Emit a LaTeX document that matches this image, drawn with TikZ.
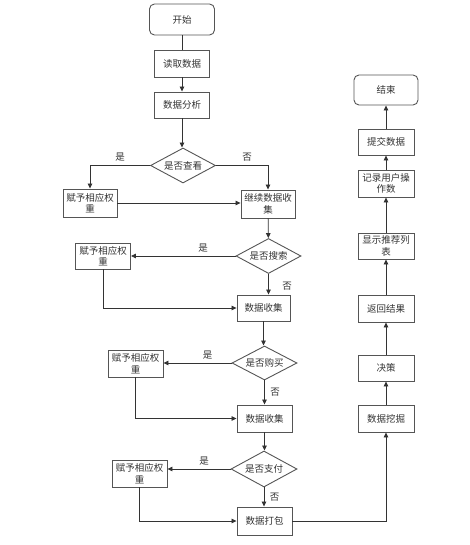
\documentclass[tikz,border=0pt]{standalone}
\usepackage{fontspec}
\setmainfont{Noto Sans CJK SC}
\usetikzlibrary{shapes.geometric,arrows.meta}
\definecolor{ln}{HTML}{333333}
\definecolor{bd}{HTML}{555555}
\definecolor{tx}{HTML}{333333}
\tikzset{
  base/.style={draw=bd, line width=0.9pt, text=tx, font=\fontsize{9.5}{11.5}\selectfont, align=center, inner sep=0pt},
  proc/.style={base, rectangle, minimum width=55pt, minimum height=27pt},
  term/.style={base, rectangle, rounded corners=5pt, minimum width=65pt, minimum height=31pt},
  dec/.style={base, diamond, aspect=1.85, minimum width=65pt, minimum height=35pt},
  conn/.style={draw=ln, line width=0.8pt, -{Triangle[length=5pt,width=4.5pt]}},
  plain/.style={draw=ln, line width=0.8pt},
  lab/.style={text=tx, font=\fontsize{9.5}{11.5}\selectfont, inner sep=1.5pt}
}
\begin{document}
\begin{tikzpicture}[x=1pt,y=-1pt]
\useasboundingbox (0,0) rectangle (470,545);
% main column
\node[term] (start) at (182,19.5) {开始};
\node[proc] (read) at (182,63.5) {读取数据};
\node[proc, minimum height=26pt] (ana) at (182,105) {数据分析};
\node[dec] (d1) at (183,165.5) {是否查看};
\node[proc, minimum width=54pt, minimum height=28pt] (w1) at (90,203) {赋予相应权\\重};
\node[proc, minimum width=54pt, minimum height=28pt] (cont) at (268,204) {继续数据收\\集};
\node[dec] (d2) at (268.5,256) {是否搜索};
\node[proc, minimum height=26pt] (w2) at (103,256) {赋予相应权\\重};
\node[proc, minimum width=53pt, minimum height=26pt] (col1) at (263.5,308) {数据收集};
\node[dec, minimum height=34pt] (d3) at (264.5,363) {是否购买};
\node[proc] (w3) at (135.5,363.5) {赋予相应权\\重};
\node[proc] (col2) at (264.5,418.5) {数据收集};
\node[dec, minimum width=66pt, minimum height=36pt] (d4) at (264,469) {是否支付};
\node[proc] (w4) at (139.5,473.5) {赋予相应权\\重};
\node[proc, minimum height=28pt] (pack) at (264.5,521) {数据打包};
% right column
\node[proc, minimum width=56pt] (mine) at (386,418.5) {数据挖掘};
\node[proc, minimum width=56pt, minimum height=26pt] (decide) at (386,368) {决策};
\node[proc, minimum width=56pt] (ret) at (386,308.5) {返回结果};
\node[proc, minimum width=56pt, minimum height=26pt] (show) at (386,246) {显示推荐列\\表};
\node[proc, minimum width=56pt] (rec) at (386,183.5) {记录用户操\\作数};
\node[proc, minimum width=56pt, minimum height=26pt] (sub) at (386,142) {提交数据};
\node[term, minimum width=64pt, minimum height=30pt] (end) at (386,90) {结束};
% connectors
\draw[plain] (start) -- (read);
\draw[conn] (read) -- (ana);
\draw[conn] (ana) -- (ana.south |- d1.north);
\draw[conn] (d1.west) -| node[lab, pos=0.25, above=2pt] (l1) {是} (w1.north);
\draw[conn] (d1.east) -| node[lab, pos=0.3, above=2pt] (l2) {否} (cont.north);
\draw[conn] (w1.east) -- (w1.east -| cont.west);
\draw[conn] (cont) -- (d2);
\draw[conn] (d2.west) -- node[lab, pos=0.31, above=2pt] (l3) {是} (d2.west -| w2.east);
\draw[conn] (w2.south) |- (col1.west);
\draw[conn] (d2.south) -- node[lab, pos=0.6, right=12pt] (l4) {否} (d2.south |- col1.north);
\draw[conn] (col1.south) -- (col1.south |- d3.north);
\draw[conn] (d3.west) -- node[lab, pos=0.35, above=2pt] (l5) {是} (d3.west -| w3.east);
\draw[conn] (w3.south) |- (col2.west);
\draw[conn] (d3.south) -- node[lab, pos=0.5, right=4pt] (l6) {否} (d3.south |- col2.north);
\draw[conn] (col2.south) -- (col2.south |- d4.north);
\draw[conn] (d4.west) -- node[lab, pos=0.42, above=2pt] (l7) {是} (d4.west -| w4.east);
\draw[conn] (w4.south) |- (pack.west);
\draw[conn] (d4.south) -- node[lab, pos=0.5, right=4pt] (l8) {否} (d4.south |- pack.north);
\draw[conn] (pack.east) -| (mine.south);
\draw[conn] (mine) -- (decide);
\draw[conn] (decide) -- (ret);
\draw[conn] (ret) -- (show);
\draw[conn] (show) -- (rec);
\draw[conn] (rec) -- (sub);
\draw[conn] (sub) -- (end);
\end{tikzpicture}
\end{document}
